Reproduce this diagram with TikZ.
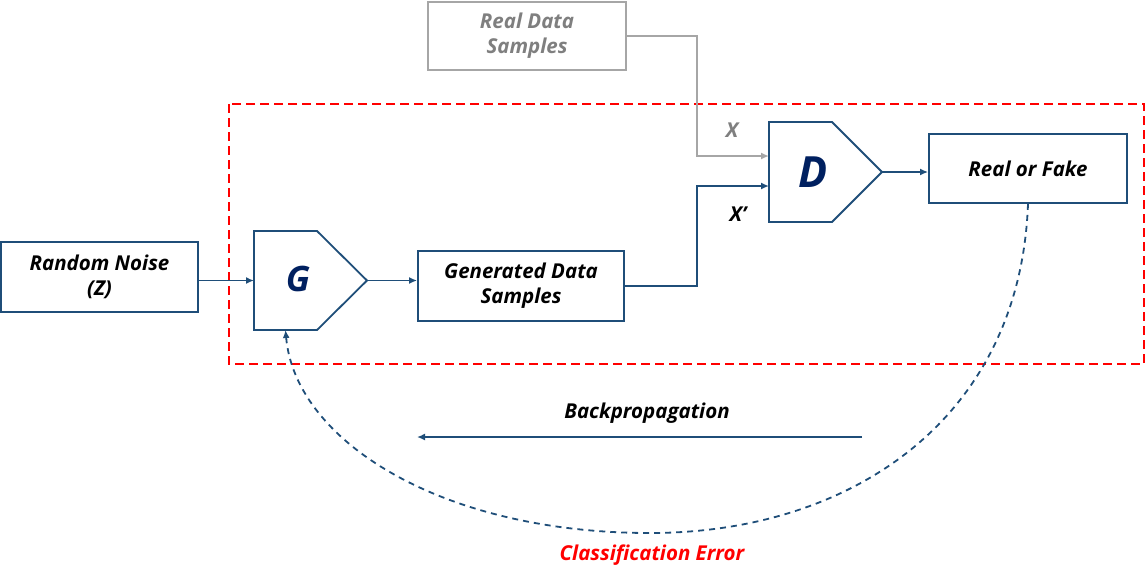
\documentclass[tikz,border=0pt]{standalone}
\usepackage{fontspec}
\setmainfont{Open Sans}
\usetikzlibrary{arrows.meta}
\definecolor{dblue}{HTML}{1F4E79}
\definecolor{navy}{HTML}{002060}
\definecolor{lgray}{HTML}{A6A6A6}
\definecolor{tgray}{HTML}{7F7F7F}
\definecolor{rred}{HTML}{FF0000}
\begin{document}
\begin{tikzpicture}[x=1pt,y=-1pt,
  txt/.style={font=\fontsize{20.5}{25}\selectfont\bfseries\itshape, align=center},
  box/.style={draw=dblue, line width=1.8pt, fill=white, inner sep=0pt, txt},
  gbox/.style={draw=lgray, line width=1.8pt, fill=white, inner sep=0pt, txt, text=tgray},
  conn/.style={draw=dblue, line width=1.8pt, -{Latex[length=8pt,width=7pt]}},
  gconn/.style={draw=lgray, line width=1.8pt, -{Latex[length=8pt,width=7pt]}},
  ghost/.style={inner sep=0pt, outer sep=0pt}]
\useasboundingbox (0,0) rectangle (1145,579);
% red dashed frame
\draw[rred, line width=1.8pt, dash pattern=on 9pt off 5pt] (229,104) rectangle (1144,364);
% boxes
\node[box, minimum width=197pt, minimum height=70pt] (noise) at (99.5,277) {Random Noise\\(Z)};
\node[box, minimum width=206pt, minimum height=70pt] (gen) at (521,286) {Generated Data\\Samples};
\node[gbox, minimum width=198pt, minimum height=68pt] (real) at (527,36) {Real Data\\Samples};
\node[box, minimum width=198pt, minimum height=69pt] (rf) at (1028,168.5) {Real or Fake};
% G pentagon
\node[ghost, minimum width=113pt, minimum height=99pt] (G) at (310.5,280.5) {};
\draw[dblue, line width=1.8pt, fill=white] (G.north west) -- ([xshift=63pt]G.north west) -- (G.east) -- ([xshift=63pt]G.south west) -- (G.south west) -- cycle;
\node[text=navy, font=\fontsize{35}{37}\selectfont\bfseries\itshape] (Gl) at (298,279) {G};
% D pentagon
\node[ghost, minimum width=113pt, minimum height=100pt] (D) at (825.5,172) {};
\draw[dblue, line width=1.8pt, fill=white] (D.north west) -- ([xshift=63pt]D.north west) -- (D.east) -- ([xshift=63pt]D.south west) -- (D.south west) -- cycle;
\node[text=navy, font=\fontsize{43}{45}\selectfont\bfseries\itshape] (Dl) at (813,172) {D};
% connectors
\draw[conn] (noise.east |- G.west) -- (G.west);
\draw[conn] (G.east) -- (gen.west |- G.east);
\draw[conn] (gen.east) -| (697,186) -- (D.west |- 0,186);
\draw[gconn] (real.east) -| (697,156) -- (D.west |- 0,156);
\draw[conn] (D.east) -- (rf.west |- D.east);
% labels
\node[txt, text=tgray] (xl) at (732,130) {X};
\node[txt] (xpl) at (738,214) {X’};
% backprop
\coordinate (bpS) at (862,437);
\coordinate (bpE) at (417,437);
\draw[conn] (bpS) -- (bpE);
\node[txt] (bpl) at (647,413) {Backpropagation};
% classification error curve
\coordinate (cbot) at (650,533);
\draw[dblue, line width=1.8pt, dash pattern=on 6pt off 5pt, -{Latex[length=8pt,width=7pt]}]
  (rf.south) .. controls (1020,420) and (850,533) .. (cbot)
  .. controls (440,533) and (295,440) .. ([xshift=-25pt]G.south);
\node[txt, text=rred] (cel) at (652,555) {Classification Error};
\end{tikzpicture}
\end{document}
